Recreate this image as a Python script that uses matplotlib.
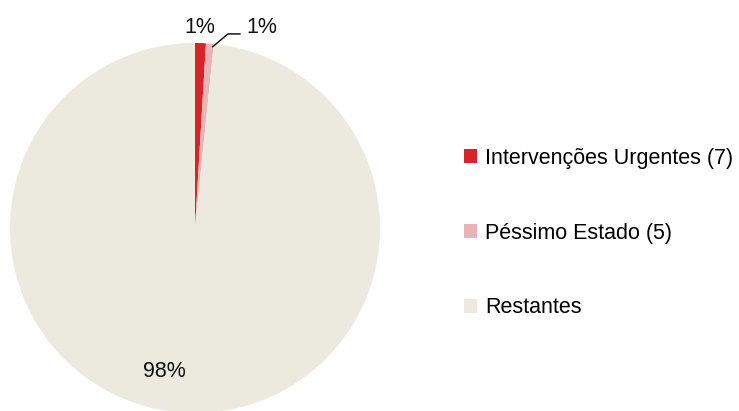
import matplotlib
matplotlib.use("Agg")
import matplotlib.pyplot as plt
from matplotlib.patches import Patch

plt.rcParams['font.family'] = ['Liberation Sans', 'DejaVu Sans']

categories = ["Intervenções Urgentes (7)", "Péssimo Estado (5)", "Restantes"]
values = [7, 5, 728]
pct_labels = ["1%", "1%", "98%"]
colors = ["#D9232A", "#E8B5B7", "#ECE9DF"]

W, H = 739, 411
fig = plt.figure(figsize=(W / 100, H / 100), dpi=100)
fig.patch.set_facecolor("white")

cx, cy, R = 195, 228, 185
ax = fig.add_axes([(cx - R) / W, (H - cy - R) / H, 2 * R / W, 2 * R / H])
wedges, _ = ax.pie(values, colors=colors, startangle=90, counterclock=False,
                   wedgeprops=dict(linewidth=0))
ax.set_xlim(-1, 1)
ax.set_ylim(-1, 1)
ax.set_aspect("equal")
ax.axis("off")

# percentage labels
label_pos = [(0.027, 1.086), (0.362, 1.086), (-0.168, -0.773)]
for txt, (x, y) in zip(pct_labels, label_pos):
    ax.text(x, y, txt, ha="center", va="center", fontsize=15.5, color="#111111", clip_on=False)

# leader line for second label
ax.plot([0.096, 0.178, 0.243], [0.98, 1.049, 1.049], color="black", lw=1.0, clip_on=False)

handles = [Patch(facecolor=c, edgecolor="none") for c in colors]
fig.legend(handles, categories, loc="center left",
           bbox_to_anchor=(464 / W, (H - 233) / H),
           frameon=False, fontsize=15.5, borderpad=0, borderaxespad=0,
           handlelength=0.6, handleheight=0.6, handletextpad=0.37,
           labelspacing=2.5)

fig.savefig("out.png", dpi=100, facecolor="white")
